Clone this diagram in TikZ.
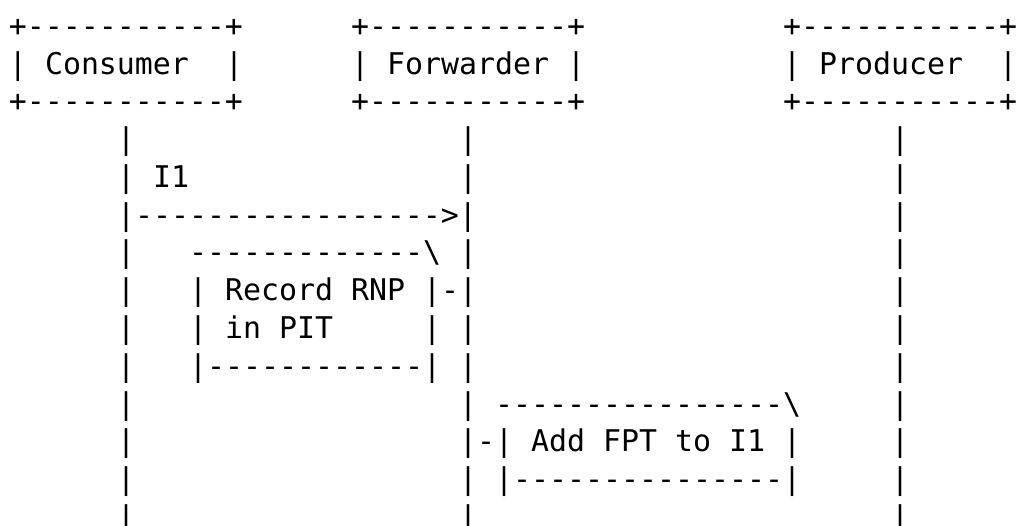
\documentclass[tikz,border=0pt]{standalone}
\usepackage{fontspec}
\setmonofont{DejaVu Sans Mono}
% character grid: 18pt per column, 37.75pt per row
\newcommand\cellx[1]{9+18*(#1)}
\newcommand\celly[1]{-36.5-37.75*(#1)}
\tikzset{
  ascii/.style={anchor=base west, inner sep=0pt, outer sep=0pt,
    font=\ttfamily\fontsize{29.9}{37.75}\selectfont, text=black}
}
\newcommand\chars[4]{\node[ascii] (#1) at ({\cellx{#2}},{\celly{#3}}) {#4};}
\begin{document}
\begin{tikzpicture}[x=1pt,y=1pt]
\fill[white] (0,0) rectangle (1016,-526);
\useasboundingbox (0,0) rectangle (1016,-526);

% participant boxes
\chars{consTop}{0}{0}{+-----------+}
\chars{fwdTop}{19}{0}{+-----------+}
\chars{prodTop}{43}{0}{+-----------+}
\chars{consL}{0}{1}{|}
\chars{consName}{2}{1}{Consumer}
\chars{consR}{12}{1}{|}
\chars{fwdL}{19}{1}{|}
\chars{fwdName}{21}{1}{Forwarder}
\chars{fwdR}{31}{1}{|}
\chars{prodL}{43}{1}{|}
\chars{prodName}{45}{1}{Producer}
\chars{prodR}{55}{1}{|}
\chars{consBot}{0}{2}{+-----------+}
\chars{fwdBot}{19}{2}{+-----------+}
\chars{prodBot}{43}{2}{+-----------+}

% lifelines
\foreach \r in {3,4,6,7,8,9,10,11,12,13} {\chars{consLife\r}{6}{\r}{|}}
\foreach \r in {3,4,6,8,9,10,12,13} {\chars{fwdLife\r}{25}{\r}{|}}
\foreach \r in {3,...,13} {\chars{prodLife\r}{49}{\r}{|}}

% interest I1 from consumer to forwarder
\chars{msgLabel}{8}{4}{I1}
\chars{msgArrow}{6}{5}{|----------------->|}

% forwarder action: record RNP in PIT
\chars{pitTop}{10}{6}{-------------\textbackslash}
\chars{pitL1}{10}{7}{|}
\chars{pitText1}{12}{7}{Record RNP}
\chars{pitLink}{23}{7}{|-|}
\chars{pitL2}{10}{8}{|}
\chars{pitText2}{12}{8}{in PIT}
\chars{pitR2}{23}{8}{|}
\chars{pitBot}{10}{9}{|------------|}

% forwarder action: add FPT to I1
\chars{fptTop}{27}{10}{----------------\textbackslash}
\chars{fptLink}{25}{11}{|-|}
\chars{fptText}{29}{11}{Add FPT to I1}
\chars{fptR}{43}{11}{|}
\chars{fptBot}{27}{12}{|---------------|}
\end{tikzpicture}
\end{document}
